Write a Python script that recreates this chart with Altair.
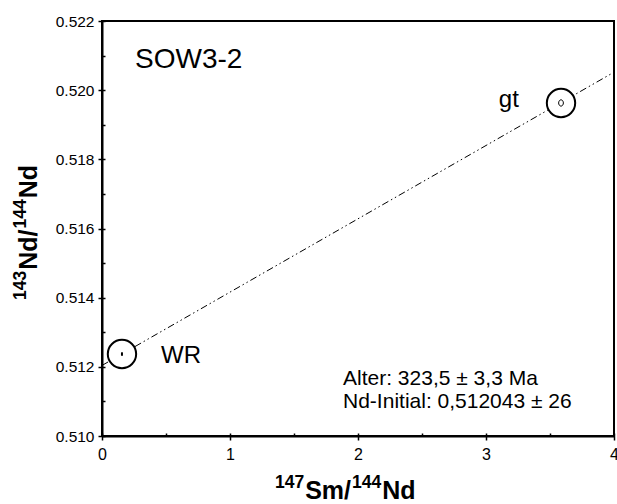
import altair as alt
import pandas as pd

# Samples (isochron points)
sample_names = ["WR", "gt"]
sm_nd = [0.156, 3.586]
nd_nd = [0.51237, 0.51963]

# Isochron line end points
line_x = [0.0, 4.0]
line_y = [0.51204, 0.52052]

# Labels
sample_label_x = [0.461, 3.10]
sample_label_y = [0.51211, 0.51951]

title_text = ["SOW3-2"]
title_x = [0.258]
title_y = [0.52064]

info_text = ["Alter: 323,5 ± 3,3 Ma", "Nd-Initial: 0,512043 ± 26"]
info_x = [1.883, 1.883]
info_y = [0.511475, 0.51081]

x_major = [0, 1, 2, 3, 4]
x_minor = [0, 0.5, 1, 1.5, 2, 2.5, 3, 3.5, 4]
y_major = [0.510, 0.512, 0.514, 0.516, 0.518, 0.520, 0.522]
y_minor = [0.510, 0.511, 0.512, 0.513, 0.514, 0.515, 0.516, 0.517, 0.518, 0.519, 0.520, 0.521, 0.522]

# Axis title pieces: (superscript, main)
x_title_parts = [("147", "Sm/"), ("144", "Nd")]
y_title_parts = [("143", "Nd/"), ("144", "Nd")]

FONT = "Liberation Sans"
MAIN_FS = 25
SUP_FS = 17.5

pts = pd.DataFrame({"name": sample_names, "x": sm_nd, "y": nd_nd})
line_df = pd.DataFrame({"x": line_x, "y": line_y})
lab_df = pd.DataFrame({"text": sample_names, "x": sample_label_x, "y": sample_label_y})
ttl_df = pd.DataFrame({"text": title_text, "x": title_x, "y": title_y})
info_df = pd.DataFrame({"text": info_text, "x": info_x, "y": info_y})

xscale = alt.Scale(domain=[0, 4], nice=False, zero=False)
yscale = alt.Scale(domain=[0.510, 0.522], nice=False, zero=False)

x_main_axis = alt.Axis(
    values=x_major, format="d", title=None, orient="bottom",
    labelFont=FONT, labelFontSize=16, labelColor="black",
    labelPadding=6, tickSize=4, tickWidth=1.5, tickColor="black",
    domainColor="black", domainWidth=2, grid=False, labelFlush=False,
)
y_main_axis = alt.Axis(
    values=y_major, format=".3f", title=None, orient="left",
    labelFont=FONT, labelFontSize=15.5, labelColor="black",
    labelPadding=4, tickSize=4, tickWidth=1.5, tickColor="black",
    domainColor="black", domainWidth=2, grid=False, labelFlush=False,
)
x_minor_axis = alt.Axis(
    values=x_minor, labels=False, domain=False, title=None, orient="bottom",
    tickSize=3, tickWidth=1.5, tickColor="black", offset=-3, grid=False,
)
y_minor_axis = alt.Axis(
    values=y_minor, labels=False, domain=False, title=None, orient="left",
    tickSize=3, tickWidth=1.5, tickColor="black", offset=-3, grid=False,
)

line = alt.Chart(line_df).mark_line(
    color="black", strokeWidth=1, strokeDash=[7, 3, 1.5, 3, 1.5, 3]
).encode(
    x=alt.X("x:Q", scale=xscale, axis=x_minor_axis),
    y=alt.Y("y:Q", scale=yscale, axis=y_minor_axis),
)

circles = alt.Chart(pts).mark_point(
    shape="circle", size=804, filled=False, fill="white", fillOpacity=1,
    stroke="black", strokeWidth=2, opacity=1
).encode(
    x=alt.X("x:Q", scale=xscale, axis=x_main_axis),
    y=alt.Y("y:Q", scale=yscale, axis=y_main_axis),
)

xn = alt.X("x:Q", scale=xscale, axis=None)
yn = alt.Y("y:Q", scale=yscale, axis=None)

inner_gt = alt.Chart(pts).transform_filter(alt.datum.name == "gt").mark_point(
    shape="M-0.75,0A0.75,1 0 1,0 0.75,0A0.75,1 0 1,0 -0.75,0Z", size=40,
    filled=False, stroke="black", strokeWidth=1, opacity=1
).encode(x=xn, y=yn)

inner_wr = alt.Chart(pts).transform_filter(alt.datum.name == "WR").mark_point(
    shape="M0,-1L0,1", size=12, filled=False, stroke="black", strokeWidth=2, opacity=1
).encode(x=xn, y=yn)

labels = alt.Chart(lab_df).mark_text(
    font=FONT, fontSize=24, align="left", baseline="alphabetic", color="black"
).encode(x=xn, y=yn, text="text:N")

ttl = alt.Chart(ttl_df).mark_text(
    font=FONT, fontSize=28, align="left", baseline="alphabetic", color="black"
).encode(x=xn, y=yn, text="text:N")

info = alt.Chart(info_df).mark_text(
    font=FONT, fontSize=21, align="left", baseline="alphabetic", color="black"
).encode(x=xn, y=yn, text="text:N")

# ---- axis titles built from pieces (superscripts) ----
one = alt.Data(values=[{"k": 0}])

def piece(txt, px, py, size, angle=0):
    return alt.Chart(one).mark_text(
        text=txt, font=FONT, fontSize=size, fontWeight="bold", color="black",
        align="left", baseline="alphabetic", angle=angle,
    ).encode(x=alt.value(px), y=alt.value(py))

W_DIG = 0.556
def main_w(s):
    w = {"S": 0.667, "m": 0.889, "/": 0.278, "N": 0.722, "d": 0.611}
    return sum(w[c] for c in s) * MAIN_FS

title_layers = []
# x title (plot origin at page x=102, y=21)
cx = 275 - 102
for sup, main in x_title_parts:
    title_layers.append(piece(sup, cx, 488 - 21, SUP_FS))
    cx += len(sup) * W_DIG * SUP_FS + 1
    title_layers.append(piece(main, cx, 499 - 21, MAIN_FS))
    cx += main_w(main) + 1
# y title, rotated, reading upward
cy = 300 - 21
for sup, main in y_title_parts:
    title_layers.append(piece(sup, 26 - 102, cy, SUP_FS, 270))
    cy -= len(sup) * W_DIG * SUP_FS + 1
    title_layers.append(piece(main, 37 - 102, cy, MAIN_FS, 270))
    cy -= main_w(main) + 1

chart = alt.layer(line, circles, inner_gt, inner_wr, labels, ttl, info, *title_layers).resolve_axis(
    x="independent", y="independent"
).properties(
    width=512, height=415,
    autosize=alt.AutoSizeParams(type="none"),
    padding={"left": 102, "top": 21, "right": 3, "bottom": 68},
    background="white",
).configure_view(stroke="black", strokeWidth=2)

chart.save("out.html", embed_options={"renderer": "svg", "actions": False})
